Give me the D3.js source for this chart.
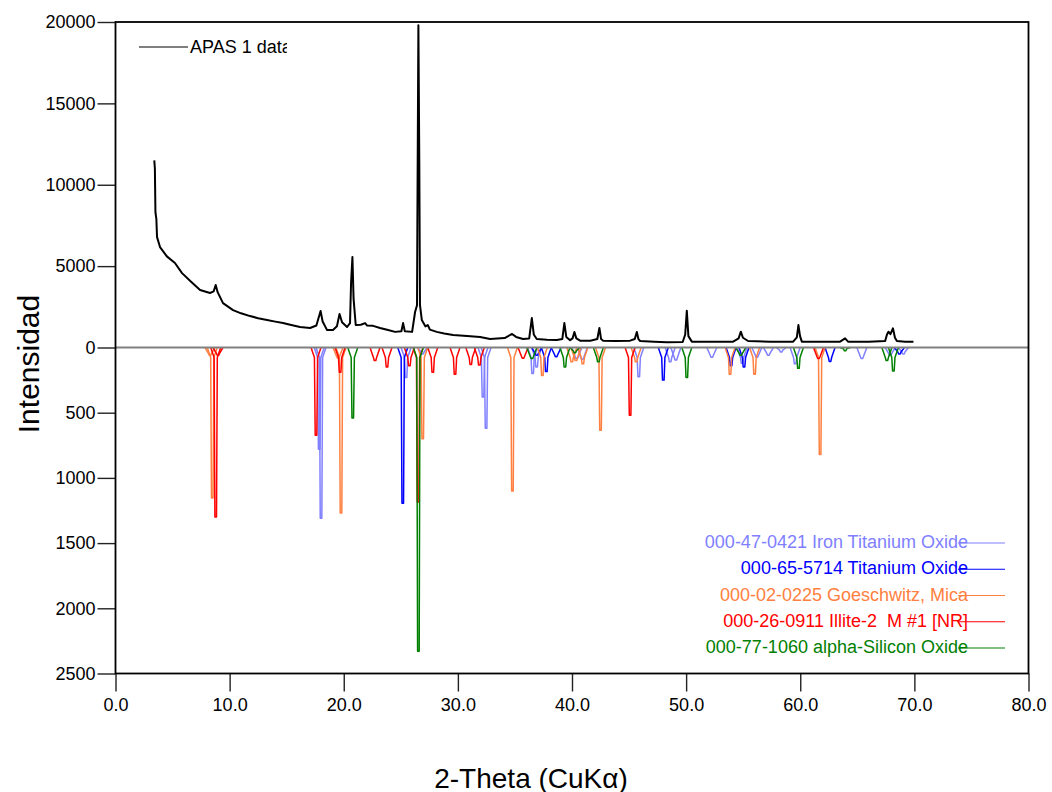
<!DOCTYPE html>
<html>
<head>
<meta charset="utf-8">
<script src="https://cdn.jsdelivr.net/npm/d3@7.9.0/dist/d3.min.js"></script>
<style>
  body { margin: 0; background: #fff; }
  svg { font-family: "Liberation Sans", Arial, sans-serif; }
</style>
</head>
<body>
<svg id="chart" width="1052" height="792"></svg>
<script>
// ---------------------------------------------------------------
// Data
// ---------------------------------------------------------------
const xTicks = [0, 10, 20, 30, 40, 50, 60, 70, 80];
const topTicks = [0, 5000, 10000, 15000, 20000];
const bottomTicks = [500, 1000, 1500, 2000, 2500];

// measured pattern: [2-theta, counts]
const measured = [
  [3.40, 11500], [3.45, 11000], [3.50, 8300], [3.58, 7900], [3.64, 6780], [3.90, 6170],
  [4.5, 5600], [5.21, 5190], [5.83, 4570], [6.6, 4050], [7.41, 3530], [8.28, 3350],
  [8.6, 3450], [8.78, 3840], [8.95, 3400], [9.42, 2730], [10.30, 2300], [11.0, 2100],
  [11.79, 1930], [12.5, 1800], [13.28, 1690], [14.0, 1590], [14.68, 1500], [15.4, 1380],
  [16.17, 1260], [17.05, 1200], [17.6, 1350], [17.85, 1950], [17.97, 2240], [18.15, 1600],
  [18.54, 1070], [19.06, 1075], [19.4, 1300], [19.63, 2060], [19.85, 1550], [20.29, 1260],
  [20.55, 1500], [20.64, 3960], [20.76, 5560], [20.86, 3000], [21.05, 1380], [21.5, 1400],
  [21.87, 1500], [22.05, 1350], [22.57, 1330], [23.18, 1200], [23.8, 1090], [24.50, 960],
  [25.05, 1000], [25.20, 1500], [25.35, 1000], [25.99, 960], [26.25, 2180], [26.42, 2600],
  [26.45, 7520], [26.54, 19800], [26.62, 11400], [26.68, 2600], [26.84, 1690], [27.15, 1300],
  [27.36, 1380], [27.55, 1100], [28.15, 960], [28.8, 860], [29.58, 770], [30.81, 700],
  [31.95, 640], [32.82, 520], [34.1, 580], [34.75, 830], [35.1, 650], [35.71, 520],
  [36.25, 560], [36.48, 1810], [36.65, 800], [36.91, 520], [37.8, 480], [38.67, 460],
  [39.15, 520], [39.33, 1500], [39.5, 650], [39.83, 450], [40.05, 560], [40.21, 950],
  [40.38, 560], [40.71, 420], [41.6, 410], [42.22, 520], [42.40, 1200], [42.55, 520],
  [42.73, 420], [43.8, 400], [45.09, 420], [45.5, 520], [45.68, 950], [45.82, 520],
  [45.97, 400], [47.2, 350], [48.33, 320], [49.7, 340], [49.92, 800], [50.06, 2260],
  [50.2, 700], [50.50, 360], [52.3, 360], [54.12, 360], [54.6, 560], [54.79, 970],
  [54.98, 600], [55.43, 400], [57.4, 360], [59.38, 360], [59.7, 620], [59.84, 1380],
  [59.98, 700], [60.14, 360], [61.8, 360], [63.49, 360], [63.93, 560], [64.19, 360],
  [66.0, 360], [67.44, 400], [67.6, 800], [67.73, 970], [67.9, 820], [68.12, 1180],
  [68.3, 600], [68.47, 400], [69.2, 360], [69.92, 360]
];

// reference cards: [2-theta, intensity]
const ironTitaniumOxide = [
  [17.85, 780], [18.01, 1310], [25.46, 230], [26.9, 50], [32.2, 380], [32.47, 620],
  [36.55, 200], [36.9, 150], [40.42, 85], [40.9, 90], [45.85, 225], [48.6, 110],
  [49.1, 95], [52.25, 75], [54.9, 120], [56.2, 75], [57.21, 60], [58.33, 35],
  [59.55, 125], [65.40, 85], [67.88, 60], [69.04, 50]
];
const titaniumOxide = [
  [25.17, 1195], [36.91, 60], [37.75, 185], [38.61, 70], [48.0, 250], [53.94, 140],
  [55.07, 150], [62.61, 107], [68.69, 50]
];
const goeschwitzMica = [
  [8.28, 60], [8.48, 1155], [19.5, 80], [19.76, 1270], [26.92, 700], [34.78, 1100],
  [37.4, 215], [39.98, 110], [40.35, 100], [40.95, 125], [42.5, 635], [45.62, 110],
  [53.85, 205], [56.0, 205], [61.74, 820]
];
const illite = [
  [8.78, 1300], [8.98, 60], [17.57, 673], [19.68, 190], [22.74, 100], [23.79, 150],
  [25.75, 140], [26.51, 1185], [27.80, 190], [29.75, 205], [31.13, 130], [31.88, 135],
  [35.71, 82], [45.09, 520], [61.60, 85]
];
const silicaAlpha = [
  [20.79, 540], [26.54, 2330], [36.48, 85], [39.38, 150], [40.25, 40], [42.31, 110],
  [50.06, 230], [54.79, 60], [59.84, 160], [63.93, 25], [67.59, 100], [68.16, 180]
];

const measuredName = 'APAS 1 data';
const phaseNames = [
  '000-47-0421 Iron Titanium Oxide',
  '000-65-5714 Titanium Oxide',
  '000-02-0225 Goeschwitz, Mica',
  '000-26-0911 Illite-2  M #1 [NR]',
  '000-77-1060 alpha-Silicon Oxide'
];
const phaseData = [ironTitaniumOxide, titaniumOxide, goeschwitzMica, illite, silicaAlpha];
const phaseColors = ['#8080ff', '#0000ff', '#ff8040', '#ff0000', '#008000'];

// ---------------------------------------------------------------
// Layout + scales
// ---------------------------------------------------------------
const plot = { left: 115.5, right: 1028.5, top: 22, zero: 347.5, bottom: 673.5 };
const svg = d3.select('#chart');

svg.append('rect').attr('width', 1052).attr('height', 792).attr('fill', '#fff');

const x = d3.scaleLinear().domain([0, 80]).range([plot.left, plot.right]);
const yTop = d3.scaleLinear().domain([0, 20000]).range([plot.zero, plot.top]);
const yBot = d3.scaleLinear().domain([0, 2500]).range([plot.zero, plot.bottom]);

// ---------------------------------------------------------------
// Reference peaks (drawn downward)
// ---------------------------------------------------------------
function peakPath(d) {
  const cx = x(d[0]);
  const depth = yBot(d[1]);
  const knee = Math.min(depth, plot.zero + 12);
  return `M${cx - 5},${plot.zero} L${cx - 1.6},${knee - 2} L${cx - 0.8},${depth} ` +
         `L${cx + 0.8},${depth} L${cx + 1.6},${knee - 2} L${cx + 5},${plot.zero}`;
}

phaseData.forEach((peaks, i) => {
  svg.append('g')
    .selectAll('path')
    .data(peaks)
    .join('path')
    .attr('d', peakPath)
    .attr('fill', 'none')
    .attr('stroke', phaseColors[i])
    .attr('stroke-width', 1.5)
    .attr('stroke-linejoin', 'round');
});

// zero line
svg.append('line')
  .attr('x1', plot.left).attr('x2', plot.right)
  .attr('y1', plot.zero).attr('y2', plot.zero)
  .attr('stroke', '#808080').attr('stroke-width', 2);

// ---------------------------------------------------------------
// Measured pattern
// ---------------------------------------------------------------
const line = d3.line().x((d) => x(d[0])).y((d) => yTop(d[1]));

svg.append('path')
  .datum(measured)
  .attr('d', line)
  .attr('fill', 'none')
  .attr('stroke', '#000')
  .attr('stroke-width', 2)
  .attr('stroke-linejoin', 'round');

// ---------------------------------------------------------------
// Axes + frame
// ---------------------------------------------------------------
function styleAxis(g) {
  g.select('.domain').remove();
  g.selectAll('.tick line').attr('stroke', '#222').attr('stroke-width', 1.4);
  g.selectAll('.tick text')
    .attr('fill', '#000')
    .style('font-size', '18px')
    .style('font-family', '"Liberation Sans", Arial, sans-serif');
}

svg.append('g')
  .attr('transform', `translate(${plot.left},0)`)
  .call(d3.axisLeft(yTop).tickValues(topTicks).tickSize(18).tickPadding(2).tickFormat(d3.format('d')))
  .call(styleAxis);

svg.append('g')
  .attr('transform', `translate(${plot.left},0)`)
  .call(d3.axisLeft(yBot).tickValues(bottomTicks).tickSize(18).tickPadding(2).tickFormat(d3.format('d')))
  .call(styleAxis);

svg.append('g')
  .attr('transform', `translate(0,${plot.bottom})`)
  .call(d3.axisBottom(x).tickValues(xTicks).tickSize(18).tickPadding(7).tickFormat(d3.format('.1f')))
  .call(styleAxis);

svg.append('rect')
  .attr('x', plot.left).attr('y', plot.top)
  .attr('width', plot.right - plot.left).attr('height', plot.bottom - plot.top)
  .attr('fill', 'none').attr('stroke', '#000').attr('stroke-width', 1.8);

// axis titles
svg.append('text')
  .attr('x', 531).attr('y', 778)
  .attr('text-anchor', 'middle').attr('dominant-baseline', 'central')
  .style('font-size', '28px')
  .text('2-Theta (CuKα)');

svg.append('text')
  .attr('transform', 'translate(28,364) rotate(-90)')
  .attr('text-anchor', 'middle').attr('dominant-baseline', 'central')
  .style('font-size', '30px')
  .text('Intensidad');

// ---------------------------------------------------------------
// Legends
// ---------------------------------------------------------------
svg.append('clipPath').attr('id', 'legclip')
  .append('rect').attr('x', 130).attr('y', 30).attr('width', 157).attr('height', 30);

const topLeg = svg.append('g').attr('clip-path', 'url(#legclip)');
topLeg.append('line')
  .attr('x1', 139).attr('x2', 188).attr('y1', 47).attr('y2', 47)
  .attr('stroke', '#000').attr('stroke-width', 1);
topLeg.append('text')
  .attr('x', 190).attr('y', 47)
  .attr('dominant-baseline', 'central')
  .style('font-size', '18px')
  .text(measuredName);

const legY = d3.scaleLinear().domain([0, 4]).range([542, 647]);
const legend = svg.append('g')
  .selectAll('g')
  .data(phaseNames)
  .join('g')
  .attr('transform', (d, i) => `translate(0,${legY(i)})`);

legend.append('text')
  .attr('x', 968)
  .attr('text-anchor', 'end')
  .attr('dominant-baseline', 'central')
  .attr('fill', (d, i) => phaseColors[i])
  .style('font-size', '18px')
  .style('white-space', 'pre')
  .text((d) => d);

legend.append('line')
  .attr('x1', 958).attr('x2', 1005).attr('y1', 1).attr('y2', 1)
  .attr('stroke', (d, i) => phaseColors[i]).attr('stroke-width', 1.2);
</script>
</body>
</html>
